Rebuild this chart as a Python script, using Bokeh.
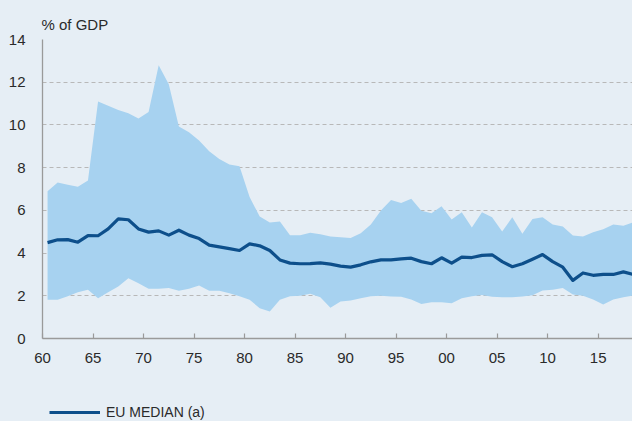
from bokeh.plotting import figure
from bokeh.layouts import column
from bokeh.models import (FixedTicker, Legend, LegendItem, GlobalInlineStyleSheet,
                          ColumnDataSource, Title)
from bokeh.embed import file_html
from bokeh.resources import INLINE

# ---- data (years 1960..2018, % of GDP) ----
years = list(range(1960, 2019))
upper = [6.9, 7.3, 7.2, 7.1, 7.4, 11.1, 10.9, 10.7, 10.55, 10.3,
         10.6, 12.8, 11.9, 9.93, 9.66, 9.27, 8.77, 8.41, 8.15, 8.07,
         6.62, 5.71, 5.43, 5.48, 4.84, 4.84, 4.95, 4.88, 4.78, 4.74,
         4.71, 4.93, 5.34, 5.99, 6.49, 6.35, 6.54, 5.98, 5.87, 6.19,
         5.57, 5.91, 5.2, 5.91, 5.68, 5.01, 5.68, 4.9, 5.59, 5.68,
         5.34, 5.24, 4.82, 4.78, 4.98, 5.12, 5.34, 5.28, 5.45]
lower = [1.81, 1.81, 1.98, 2.17, 2.28, 1.89, 2.17, 2.43, 2.82, 2.59,
         2.33, 2.33, 2.36, 2.23, 2.33, 2.48, 2.23, 2.23, 2.12, 1.98,
         1.81, 1.42, 1.26, 1.81, 1.98, 2.0, 2.09, 1.93, 1.44, 1.73,
         1.78, 1.89, 1.98, 2.0, 1.97, 1.95, 1.83, 1.62, 1.7, 1.7,
         1.65, 1.89, 1.98, 2.04, 1.95, 1.93, 1.93, 1.97, 2.03, 2.25,
         2.28, 2.36, 2.06, 2.0, 1.83, 1.59, 1.83, 1.93, 2.01]
median = [4.49, 4.62, 4.63, 4.51, 4.82, 4.81, 5.13, 5.6, 5.56, 5.13,
          4.98, 5.04, 4.84, 5.07, 4.84, 4.68, 4.37, 4.29, 4.21, 4.12,
          4.43, 4.34, 4.12, 3.68, 3.53, 3.5, 3.51, 3.54, 3.48, 3.39,
          3.34, 3.45, 3.59, 3.68, 3.68, 3.73, 3.76, 3.6, 3.5, 3.78,
          3.53, 3.81, 3.79, 3.89, 3.92, 3.6, 3.36, 3.5, 3.71, 3.93,
          3.6, 3.34, 2.72, 3.07, 2.96, 3.0, 3.0, 3.12, 3.0]
tick_years = [60, 65, 70, 75, 80, 85, 90, 95, 100, 105, 110, 115]
tick_labels = ["60", "65", "70", "75", "80", "85", "90", "95", "00", "05", "10", "15"]
y_ticks = [0, 2, 4, 6, 8, 10, 12, 14]
series_name = "EU MEDIAN (a)"
unit_label = "% of GDP"

BG = "#e6eef5"
BAND = "#a7d2f0"
LINE = "#0d4f8b"
FONT = "Liberation Sans"
TXT = "#2a2a2a"
LINE_W = 3.2

# data plotted at mid-year
xs = [y - 1900 + 0.5 for y in years]
src = ColumnDataSource(dict(x=xs, upper=upper, lower=lower, median=median))

p = figure(width=632, height=395, output_backend="svg", toolbar_location=None,
           x_range=(60, 118.4), y_range=(0, 14),
           min_border_left=42, min_border_right=0, min_border_top=39,
           min_border_bottom=57)
p.stylesheets = [GlobalInlineStyleSheet(css="body{background:%s;}" % BG)]
p.background_fill_color = BG
p.border_fill_color = BG
p.outline_line_color = None

p.varea(x="x", y1="lower", y2="upper", source=src, fill_color=BAND)
med = p.line(x="x", y="median", source=src, line_color=LINE, line_width=LINE_W,
             line_join="round")

# axes
for ax in (p.xaxis, p.yaxis):
    ax.axis_line_color = "#9a9a9a"
    ax.axis_line_width = 1.3
    ax.major_label_text_font = FONT
    ax.major_label_text_font_size = "15px"
    ax.major_label_text_color = TXT
    ax.minor_tick_line_color = None

p.xaxis.ticker = FixedTicker(ticks=tick_years)
p.xaxis.major_label_overrides = {t: l for t, l in zip(tick_years, tick_labels)}
p.xaxis.major_tick_in = 5
p.xaxis.major_tick_out = 0
p.xaxis.major_tick_line_color = "#9a9a9a"
p.xaxis.major_tick_line_width = 1.2
p.xaxis.major_label_standoff = 14

p.yaxis.ticker = FixedTicker(ticks=y_ticks)
p.yaxis.major_tick_in = 0
p.yaxis.major_tick_out = 0
p.yaxis.major_label_standoff = 17

p.xgrid.grid_line_color = None
p.ygrid.ticker = FixedTicker(ticks=y_ticks[1:])
p.ygrid.grid_line_color = "#b8b8b8"
p.ygrid.grid_line_dash = "4 3"
p.ygrid.grid_line_width = 1.2

p.add_layout(Title(text=unit_label, align="left", offset=-1, standoff=13,
                   text_font=FONT, text_font_size="15px", text_font_style="normal",
                   text_color=TXT), "above")

# legend strip below the chart (frame aligned with the chart's frame)
lg = figure(width=632, height=26, output_backend="svg", toolbar_location=None,
            x_axis_location=None, y_axis_location=None,
            x_range=(0, 1), y_range=(0, 1),
            min_border_left=0, min_border_right=0, min_border_top=0,
            min_border_bottom=0)
lg.background_fill_color = BG
lg.border_fill_color = BG
lg.outline_line_color = None
lg.grid.visible = False
key_src = ColumnDataSource(dict(x=[float("nan")], y=[float("nan")]))
key = lg.line(x="x", y="y", source=key_src, line_color=LINE, line_width=LINE_W)

legend = Legend(items=[LegendItem(label=series_name, renderers=[key])],
                location=(7, 1), glyph_width=51, glyph_height=14,
                label_height=16, label_standoff=6, padding=0, margin=0, spacing=0,
                border_line_alpha=0, background_fill_alpha=0,
                label_text_font=FONT,
                label_text_font_size="14px", label_text_color=TXT)
lg.add_layout(legend, "center")

layout = column(p, lg, spacing=0)
open("out.html", "w").write(file_html(layout, INLINE))
